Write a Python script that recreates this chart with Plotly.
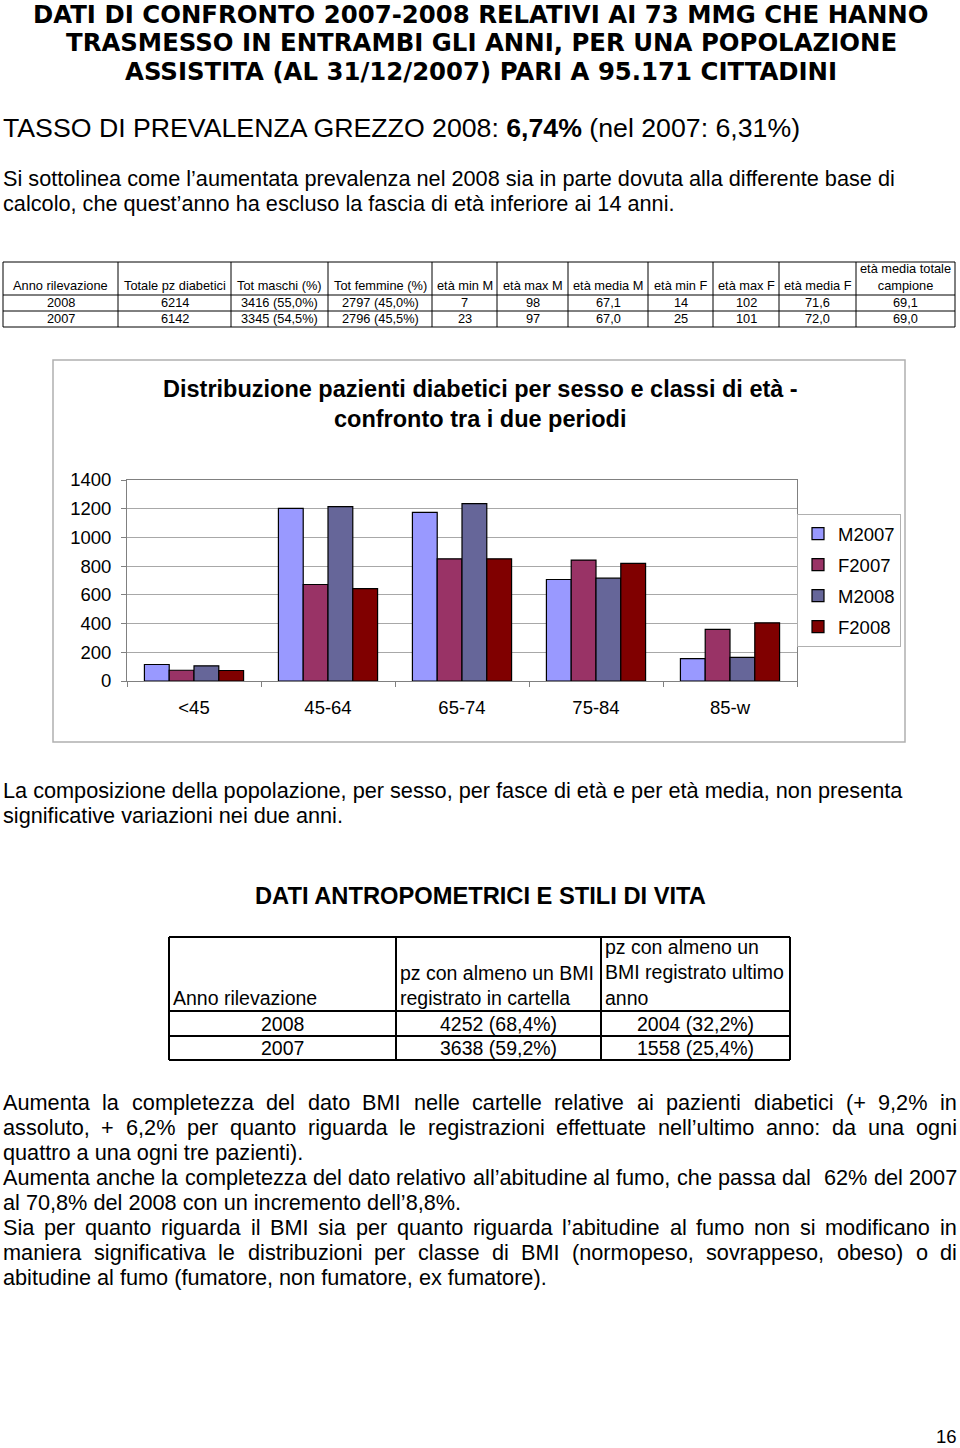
import plotly.graph_objects as go

W, H = 960, 1448
FONT = "Liberation Sans, Arial, sans-serif"
TITLE_FONT = "DejaVu Sans, Verdana, sans-serif"

# ---------------- data ----------------
categories = ["<45", "45-64", "65-74", "75-84", "85-w"]
m2007 = [115, 1203, 1174, 707, 156]
f2007 = [75, 672, 851, 842, 360]
m2008 = [106, 1214, 1235, 716, 165]
f2008 = [73, 644, 851, 819, 405]
series_names = ["M2007", "F2007", "M2008", "F2008"]
y_ticks = [0, 200, 400, 600, 800, 1000, 1200, 1400]

table1_header = ["Anno rilevazione", "Totale pz diabetici", "Tot maschi (%)", "Tot femmine (%)",
                 "età min M", "età max M", "età media M", "età min F", "età max F",
                 "età media F", "età media totale<br>campione"]
table1_rows = [
    ["2008", "6214", "3416 (55,0%)", "2797 (45,0%)", "7", "98", "67,1", "14", "102", "71,6", "69,1"],
    ["2007", "6142", "3345 (54,5%)", "2796 (45,5%)", "23", "97", "67,0", "25", "101", "72,0", "69,0"],
]
table2_header = ["Anno rilevazione", "pz con almeno un BMI<br>registrato in cartella",
                 "pz con almeno un<br>BMI registrato ultimo<br>anno"]
table2_rows = [
    ["2008", "4252 (68,4%)", "2004 (32,2%)"],
    ["2007", "3638 (59,2%)", "1558 (25,4%)"],
]

title_lines = ["DATI DI CONFRONTO 2007-2008 RELATIVI AI 73 MMG CHE HANNO",
               "TRASMESSO IN ENTRAMBI GLI ANNI, PER UNA POPOLAZIONE",
               "ASSISTITA (AL 31/12/2007) PARI A 95.171 CITTADINI"]
prevalence_text = "TASSO DI PREVALENZA GREZZO 2008: <b>6,74%</b> (nel 2007: 6,31%)"
note_lines = ["Si sottolinea come l’aumentata prevalenza nel 2008 sia in parte dovuta alla differente base di",
              "calcolo, che quest’anno ha escluso la fascia di età inferiore ai 14 anni."]
chart_title = ["Distribuzione pazienti diabetici per sesso e classi di età -",
               "confronto tra i due periodi"]
composition_lines = ["La composizione della popolazione, per sesso, per fasce di età e per età media, non presenta",
                     "significative variazioni nei due anni."]
section_title = "DATI ANTROPOMETRICI E STILI DI VITA"
final_lines = [
    ("Aumenta la completezza del dato BMI nelle cartelle relative ai pazienti diabetici (+ 9,2% in", True),
    ("assoluto, + 6,2% per quanto riguarda le registrazioni effettuate nell’ultimo anno: da una ogni", True),
    ("quattro a una ogni tre pazienti).", False),
    ("Aumenta anche la completezza del dato relativo all’abitudine al fumo, che passa dal  62% del 2007", True),
    ("al 70,8% del 2008 con un incremento dell’8,8%.", False),
    ("Sia per quanto riguarda il BMI sia per quanto riguarda l’abitudine al fumo non si modificano in", True),
    ("maniera significativa le distribuzioni per classe di BMI (normopeso, sovrappeso, obeso) o di", True),
    ("abitudine al fumo (fumatore, non fumatore, ex fumatore).", False),
]
page_number = "16"

# ---------------- styles / geometry ----------------
bar_colors = ["#9999FF", "#993366", "#666699", "#800000"]
t1_cols = [3, 118, 231, 328, 432, 497, 568, 648, 713, 779, 856, 955]
t1_rows = [262, 295, 311, 327]
t2_cols = [169, 396, 601, 790]
t2_rows = [937, 1011, 1036, 1060]

# Arial / Liberation Sans advance widths (1/1000 em)
REG = {' ': 278, '!': 278, '%': 889, '(': 333, ')': 333, '+': 584, ',': 278, '-': 333, '.': 278,
       '/': 278, ':': 278, ';': 278, '’': 222, 'à': 556, 'è': 556, 'é': 556}
for d in "0123456789":
    REG[d] = 556
REG.update(dict(zip("ABCDEFGHIJKLMNOPQRSTUVWXYZ",
                    [667, 667, 722, 722, 667, 611, 778, 722, 278, 500, 667, 556, 833, 722, 778, 667,
                     778, 722, 667, 611, 722, 667, 944, 667, 667, 611])))
REG.update(dict(zip("abcdefghijklmnopqrstuvwxyz",
                    [556, 556, 500, 556, 556, 278, 556, 556, 222, 222, 500, 222, 833, 556, 556, 556,
                     556, 333, 500, 278, 556, 500, 722, 500, 500, 500])))


def text_width(s, size):
    return sum(REG.get(c, 556) for c in s) * size / 1000.0


def px(x):
    return x / W


def py(y):
    return 1 - y / H


annotations = []
shapes = []


def add_text(x, y, text, size, bold=False, xanchor="left", yanchor="middle", align="left", family=FONT):
    annotations.append(dict(
        xref="paper", yref="paper", x=px(x), y=py(y),
        text=("<b>" + text + "</b>") if bold else text,
        showarrow=False, xanchor=xanchor, yanchor=yanchor, align=align,
        borderpad=0, font=dict(family=family, size=size, color="black")))


def add_line(x0, y0, x1, y1, width=1, color="black"):
    shapes.append(dict(type="line", xref="paper", yref="paper",
                       x0=px(x0), y0=py(y0), x1=px(x1), y1=py(y1),
                       line=dict(color=color, width=width), layer="above"))


# ---------------- page text ----------------
for i, line in enumerate(title_lines):
    add_text(481, 14.3 + i * 28.45, line, 24.4, bold=True, xanchor="center", family=TITLE_FONT)

add_text(2, 127.5, prevalence_text, 26.7)

BODY = 21.7
for i, line in enumerate(note_lines):
    add_text(2, 178 + i * 25.5, line, BODY)

for i, line in enumerate(composition_lines):
    add_text(2, 790 + i * 25.5, line, BODY)

add_text(480, 896, section_title, 23.7, bold=True, xanchor="center")

LEFT, RIGHT = 3, 957
for i, (line, justified) in enumerate(final_lines):
    y = 1102 + i * 25
    if not justified:
        add_text(LEFT - 1, y, line, BODY)
        continue
    words = line.split(" ")
    widths = [text_width(w, BODY) for w in words]
    gap = (RIGHT - LEFT - sum(widths)) / (len(words) - 1)
    x = LEFT
    for w, wd in zip(words, widths):
        if w:
            add_text(x - 1, y, w, BODY)
        x += wd + gap

add_text(946, 1447.5, page_number, 18.5, xanchor="center", yanchor="bottom")

# chart title + chart frame
for i, line in enumerate(chart_title):
    add_text(480, 389 + i * 30, line, 23.5, bold=True, xanchor="center")
shapes.append(dict(type="rect", xref="paper", yref="paper", x0=px(53), y0=py(360), x1=px(905), y1=py(742),
                   line=dict(color="#B0B0B0", width=1.5), fillcolor="rgba(0,0,0,0)", layer="below"))

# ---------------- table 1 ----------------
for x in t1_cols:
    add_line(x, t1_rows[0], x, t1_rows[-1], 1)
for y in t1_rows:
    add_line(t1_cols[0], y, t1_cols[-1], y, 1)
for j, h in enumerate(table1_header):
    cx = (t1_cols[j] + t1_cols[j + 1]) / 2
    add_text(cx, t1_rows[1] - 1, h, 12.8, xanchor="center", yanchor="bottom", align="center")
for r, row in enumerate(table1_rows):
    cy = (t1_rows[r + 1] + t1_rows[r + 2]) / 2
    for j, v in enumerate(row):
        cx = (t1_cols[j] + t1_cols[j + 1]) / 2
        add_text(cx, cy, v, 12.8, xanchor="center")

# ---------------- table 2 ----------------
for x in t2_cols:
    add_line(x, t2_rows[0], x, t2_rows[-1], 2)
for y in t2_rows:
    add_line(t2_cols[0], y, t2_cols[-1], y, 2)
for j, h in enumerate(table2_header):
    add_text(t2_cols[j] + 3, t2_rows[1] - 1, h, 19.5, xanchor="left", yanchor="bottom", align="left")
for r, row in enumerate(table2_rows):
    cy = (t2_rows[r + 1] + t2_rows[r + 2]) / 2
    for j, v in enumerate(row):
        cx = (t2_cols[j] + t2_cols[j + 1]) / 2
        add_text(cx, cy, v, 19.5, xanchor="center")

# ---------------- bar chart ----------------
fig = go.Figure()
for name, vals, col in zip(series_names, [m2007, f2007, m2008, f2008], bar_colors):
    fig.add_trace(go.Bar(x=categories, y=vals, name=name, legendgroup=name,
                         marker=dict(color=col, line=dict(color="black", width=1.2))))

tickfont = dict(family=FONT, size=18.5, color="black")
fig.update_layout(
    template="none",
    width=W, height=H, margin=dict(l=0, r=0, t=0, b=0, pad=0), autosize=False,
    paper_bgcolor="white", plot_bgcolor="white",
    barmode="group", bargap=0.26, bargroupgap=0,
    showlegend=True,
    xaxis=dict(domain=[px(127), px(797)], showline=True, linecolor="#808080", linewidth=1, mirror=True,
               ticks="outside", tickson="boundaries", ticklen=5, tickcolor="#808080", automargin=False,
               tickfont=tickfont, ticklabelstandoff=10, showgrid=False, fixedrange=True),
    yaxis=dict(domain=[py(681), py(480)], range=[0, 1400], tickvals=y_ticks, showline=True,
               linecolor="#808080", linewidth=1, mirror=True, ticks="outside", ticklen=5, automargin=False,
               tickcolor="#808080", showgrid=True, gridcolor="#A8A8A8", gridwidth=1, zeroline=False,
               tickfont=tickfont, ticklabelstandoff=6, fixedrange=True),
    legend=dict(x=px(797), y=py(514), xanchor="left", yanchor="top", bordercolor="#B0B0B0",
                borderwidth=1, bgcolor="white", font=tickfont, tracegroupgap=4,
                itemwidth=30),
    annotations=annotations, shapes=shapes,
)

page_js = (
    "document.body.style.margin='0px';"
    "document.body.style.overflow='hidden';"
    "var gd=document.getElementById('{plot_id}');"
    "gd.style.position='absolute';gd.style.left='0px';gd.style.top='0px';"
)
fig.write_html("out.html", config={"displayModeBar": False}, post_script=page_js)
